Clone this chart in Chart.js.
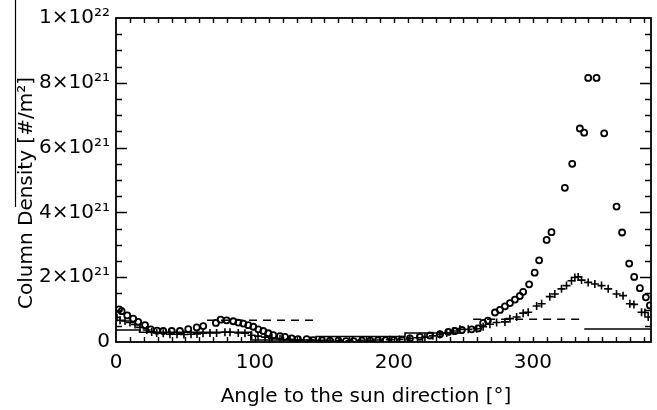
<!DOCTYPE html>
<html>
<head>
<meta charset="utf-8">
<script src="https://cdn.jsdelivr.net/npm/chart.js@4.4.0/dist/chart.umd.min.js"></script>
<style>
  html, body { margin: 0; padding: 0; background: #fff; }
  #wrap { width: 657px; height: 410px; }
</style>
</head>
<body>
<div id="wrap"><canvas id="densityChart" width="657" height="410"></canvas></div>
<script>
// Column density (units of 1e21 #/m^2) against angle to the sun direction (deg)
const diamondAngle = [2.2, 4.1, 8.1, 12.4, 16.0, 20.9, 25.0, 29.5, 34.0, 40.1, 46.0, 52.0, 58.1, 62.8, 71.9, 75.3, 79.6, 84.4, 88.0, 91.6,
  95.2, 98.8, 102.4, 106.0, 109.6, 113.2, 118.0, 121.6, 126.4, 130.9, 137.2, 141.9, 148.2, 154.0, 160.0, 165.5, 171.0, 177.0, 183.0, 188.5,
  194.0, 200.0, 205.8, 211.5, 218.7, 225.9, 233.1, 239.1, 243.9, 248.9, 255.9, 260.6, 264.2, 267.6, 272.7, 276.3, 279.9, 283.5, 287.1, 290.6,
  293.0, 297.3, 301.3, 304.5, 309.9, 313.4, 323.0, 328.3, 333.8, 336.9, 339.8, 345.8, 351.3, 360.2, 364.2, 369.3, 372.9, 377.0, 381.3, 384.2];
const diamondDensity = [1.01, 0.95, 0.82, 0.72, 0.62, 0.52, 0.39, 0.35, 0.34, 0.34, 0.34, 0.40, 0.45, 0.49, 0.59, 0.69, 0.67, 0.64, 0.60, 0.57,
  0.52, 0.47, 0.39, 0.34, 0.27, 0.21, 0.18, 0.16, 0.11, 0.09, 0.09, 0.06, 0.05, 0.04, 0.04, 0.03, 0.03, 0.04, 0.04, 0.05,
  0.05, 0.06, 0.07, 0.11, 0.16, 0.20, 0.24, 0.31, 0.34, 0.37, 0.39, 0.42, 0.59, 0.66, 0.91, 0.99, 1.10, 1.20, 1.31, 1.42,
  1.55, 1.78, 2.14, 2.52, 3.15, 3.39, 4.76, 5.50, 6.59, 6.46, 8.15, 8.15, 6.44, 4.18, 3.38, 2.42, 2.01, 1.66, 1.38, 1.13];

const crossAngle = [0.7, 2.9, 6.5, 10.1, 13.7, 17.3, 22.1, 25.7, 29.3, 34.0, 38.8, 43.9, 48.9, 54.0, 58.3, 62.6, 67.6, 72.4, 78.4, 82.0,
  88.0, 92.8, 97.6, 102.2, 107.2, 112.2, 118.0, 125.2, 132.4, 140, 147, 154, 161, 168, 175.5, 183, 190, 197, 204, 211.5,
  217, 222.3, 228, 233.1, 238, 242.7, 247.5, 253.5, 259.5, 264.2, 269.1, 273.9, 279.9, 283.5, 288.3, 293.0, 296.6, 302.7, 306.3, 312.2,
  315.8, 320.6, 324.2, 327.8, 330.2, 332.6, 335.0, 339.8, 344.6, 349.4, 354.2, 360.2, 364.9, 369.8, 372.7, 378.2, 380.6, 383.0];
const crossDensity = [0.76, 0.67, 0.65, 0.60, 0.54, 0.45, 0.37, 0.31, 0.28, 0.27, 0.24, 0.24, 0.23, 0.24, 0.25, 0.27, 0.28, 0.28, 0.30, 0.30,
  0.28, 0.27, 0.21, 0.18, 0.15, 0.12, 0.10, 0.08, 0.06, 0.05, 0.05, 0.05, 0.04, 0.04, 0.05, 0.05, 0.06, 0.07, 0.08, 0.11,
  0.13, 0.15, 0.19, 0.23, 0.28, 0.34, 0.39, 0.39, 0.41, 0.47, 0.55, 0.60, 0.62, 0.72, 0.77, 0.89, 0.92, 1.11, 1.18, 1.40,
  1.48, 1.64, 1.74, 1.89, 1.99, 2.01, 1.91, 1.84, 1.79, 1.74, 1.64, 1.48, 1.43, 1.18, 1.16, 0.92, 0.91, 0.77];

// piecewise-constant levels: dashed and solid
const dashStart = [65.5, 257];
const dashEnd = [143, 335];
const dashLevel = [0.67, 0.70];
const solidStart = [0, 17, 97, 144, 208, 337];
const solidEnd = [17, 97, 144, 208, 250, 385];
const solidLevel = [0.37, 0.30, 0.06, 0.17, 0.28, 0.40];

const xTicks = [0, 100, 200, 300];
const yTicks = [0, 2, 4, 6, 8, 10];
const yTickLabels = ['0', '2×10²¹', '4×10²¹', '6×10²¹', '8×10²¹', '1×10²²'];

const FONT = 'DejaVu Sans';

function toPoints(xs, ys) {
  return xs.map((x, i) => ({ x: x, y: ys[i] }));
}

// joins the level segments; a gap between two segments breaks the line
function stepPoints(starts, ends, levels) {
  const pts = [];
  starts.forEach((s, i) => {
    if (i > 0 && s !== ends[i - 1]) pts.push({ x: (s + ends[i - 1]) / 2, y: null });
    pts.push({ x: s, y: levels[i] });
    pts.push({ x: ends[i], y: levels[i] });
  });
  return pts;
}

// box round the plot with inward ticks on all four sides, plus the axis titles
const framePlugin = {
  id: 'frame',
  afterDatasetsDraw(chart) {
    const { ctx, chartArea: a, scales } = chart;
    const xs = scales.x, ys = scales.y;
    ctx.save();
    ctx.strokeStyle = '#000';
    ctx.lineWidth = 1.8;
    ctx.strokeRect(a.left, a.top, a.right - a.left, a.bottom - a.top);

    ctx.lineWidth = 1.4;
    ctx.beginPath();
    for (let v = 10; v < xs.max; v += 10) {
      const px = Math.round(xs.getPixelForValue(v)) + 0.5;
      ctx.moveTo(px, a.bottom); ctx.lineTo(px, a.bottom - 5);
      ctx.moveTo(px, a.top); ctx.lineTo(px, a.top + 5);
    }
    for (let v = 0.5; v < ys.max; v += 0.5) {
      const major = Math.abs(v / 2 - Math.round(v / 2)) < 1e-6;
      const len = major ? 11 : 6;
      const py = Math.round(ys.getPixelForValue(v)) + 0.5;
      ctx.moveTo(a.left, py); ctx.lineTo(a.left + len, py);
      ctx.moveTo(a.right, py); ctx.lineTo(a.right - len, py);
    }
    ctx.stroke();

    ctx.fillStyle = '#000';
    ctx.font = '20px "' + FONT + '"';
    ctx.textAlign = 'center';
    ctx.textBaseline = 'alphabetic';
    ctx.fillText('Angle to the sun direction [°]', 366, 402);

    ctx.save();
    ctx.translate(32, 193);
    ctx.rotate(-Math.PI / 2);
    ctx.fillText('Column Density [#/m²]', 0, 0);
    ctx.restore();

    ctx.lineWidth = 1.2;
    ctx.beginPath();
    ctx.moveTo(15.5, 0); ctx.lineTo(15.5, 207);
    ctx.stroke();
    ctx.restore();
  }
};

new Chart(document.getElementById('densityChart'), {
  type: 'scatter',
  data: {
    datasets: [
      {
        label: 'diamonds',
        data: toPoints(diamondAngle, diamondDensity),
        pointStyle: 'circle',
        pointRadius: 3,
        borderColor: '#000',
        backgroundColor: 'rgba(0,0,0,0)',
        borderWidth: 1.8,
        showLine: false
      },
      {
        label: 'crosses',
        data: toPoints(crossAngle, crossDensity),
        pointStyle: 'cross',
        pointRadius: 4,
        borderColor: '#000',
        borderWidth: 1.6,
        showLine: false
      },
      {
        label: 'dashed',
        data: stepPoints(dashStart, dashEnd, dashLevel),
        showLine: true,
        spanGaps: false,
        pointRadius: 0,
        borderColor: '#000',
        borderWidth: 1.6,
        borderDash: [8, 6]
      },
      {
        label: 'solid',
        data: stepPoints(solidStart, solidEnd, solidLevel),
        showLine: true,
        spanGaps: false,
        pointRadius: 0,
        borderColor: '#000',
        borderWidth: 1.6
      }
    ]
  },
  options: {
    responsive: false,
    animation: false,
    devicePixelRatio: 1,
    layout: { padding: { top: 14, right: 6, left: 0, bottom: 0 } },
    plugins: { legend: { display: false }, tooltip: { enabled: false } },
    scales: {
      x: {
        type: 'linear',
        min: 0,
        max: 385,
        afterBuildTicks: s => { s.ticks = xTicks.map(v => ({ value: v })); },
        afterFit: s => { s.height = 68; },
        grid: { display: false, drawTicks: false },
        border: { display: false },
        ticks: { color: '#000', font: { family: FONT, size: 20 }, padding: 9, maxRotation: 0, autoSkip: false }
      },
      y: {
        type: 'linear',
        min: 0,
        max: 10,
        afterBuildTicks: s => { s.ticks = yTicks.map(v => ({ value: v })); },
        afterFit: s => { s.width = 116; },
        grid: { display: false, drawTicks: false },
        border: { display: false },
        ticks: {
          color: '#000',
          font: { family: FONT, size: 20 },
          padding: 6,
          autoSkip: false,
          callback: (v) => yTickLabels[yTicks.indexOf(v)]
        }
      }
    }
  },
  plugins: [framePlugin]
});
</script>
</body>
</html>
